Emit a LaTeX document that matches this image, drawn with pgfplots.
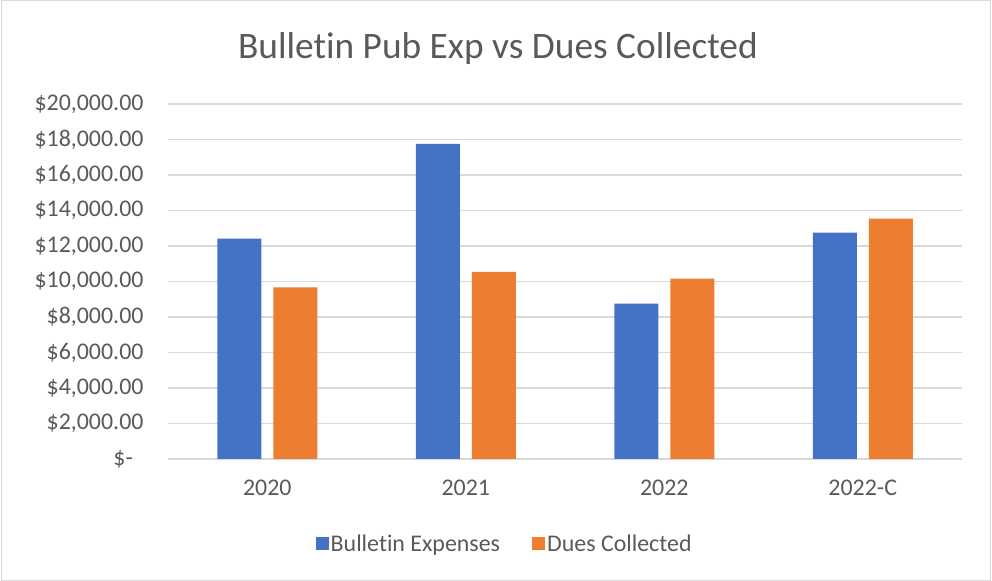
\documentclass[border=0pt]{standalone}
\usepackage{fontspec}
\setmainfont{Carlito}[RawFeature={-liga;-clig;-calt;-dlig;-rlig}]
\usepackage{pgfplots}
\pgfplotsset{compat=1.18}
\definecolor{cblue}{HTML}{4472C4}
\definecolor{corange}{HTML}{ED7D31}
\definecolor{ctext}{HTML}{595959}
\definecolor{cgrid}{HTML}{D9D9D9}
\pgfplotsset{sqlegend/.style={legend image code/.code={\fill[##1, draw=none] (-6bp,-6.5bp) rectangle (7bp,6.5bp);}}}
\begin{document}
\begin{tikzpicture}[x=1bp,y=1bp]
\path[use as bounding box] (0,0) rectangle (992,581);
\draw[cgrid, line width=1bp] (1.5,0.5) rectangle (990.5,580.5);
\node[text=ctext, font=\fontsize{37.5}{42}\selectfont] at (498,532) {Bulletin Pub Exp vs Dues Collected};
\begin{axis}[
  at={(168bp,122bp)}, anchor=south west,
  scale only axis, width=794bp, height=355bp,
  xmin=-0.5, xmax=3.5, ymin=0, ymax=20000,
  xtick={0,1,2,3}, xticklabels={2020,2021,2022,2022-C},
  ytick={0,2000,...,20000}, scaled y ticks=false,
  yticklabels={{\makebox[30bp][l]{\$-}},{\$2,000.00},{\$4,000.00},{\$6,000.00},{\$8,000.00},{\$10,000.00},{\$12,000.00},{\$14,000.00},{\$16,000.00},{\$18,000.00},{\$20,000.00}},
  ymajorgrids, grid style={cgrid, line width=1.3bp},
  axis line style={draw=none}, major tick length=0pt,
  /pgf/number format/assume math mode=true,
  tick label style={text=ctext, font=\fontsize{24}{28}\selectfont},
  yticklabel style={xshift=-21bp},
  xticklabel style={yshift=-17bp},
  legend columns=2,
  legend style={at={(0.424,-0.239)}, anchor=center, draw=none, fill=none,
    text=ctext, font=\fontsize{24}{28}\selectfont,
    /tikz/every even column/.append style={column sep=30bp}},
]
\addplot[ybar, bar width=44bp, bar shift=-28bp, fill=cblue, draw=none, sqlegend]
  coordinates {(0,12410) (1,17750) (2,8750) (3,12750)};
\addlegendentry{Bulletin Expenses}
\addplot[ybar, bar width=44bp, bar shift=28bp, fill=corange, draw=none, sqlegend]
  coordinates {(0,9670) (1,10540) (2,10160) (3,13540)};
\addlegendentry{Dues Collected}
\end{axis}
\end{tikzpicture}
\end{document}
